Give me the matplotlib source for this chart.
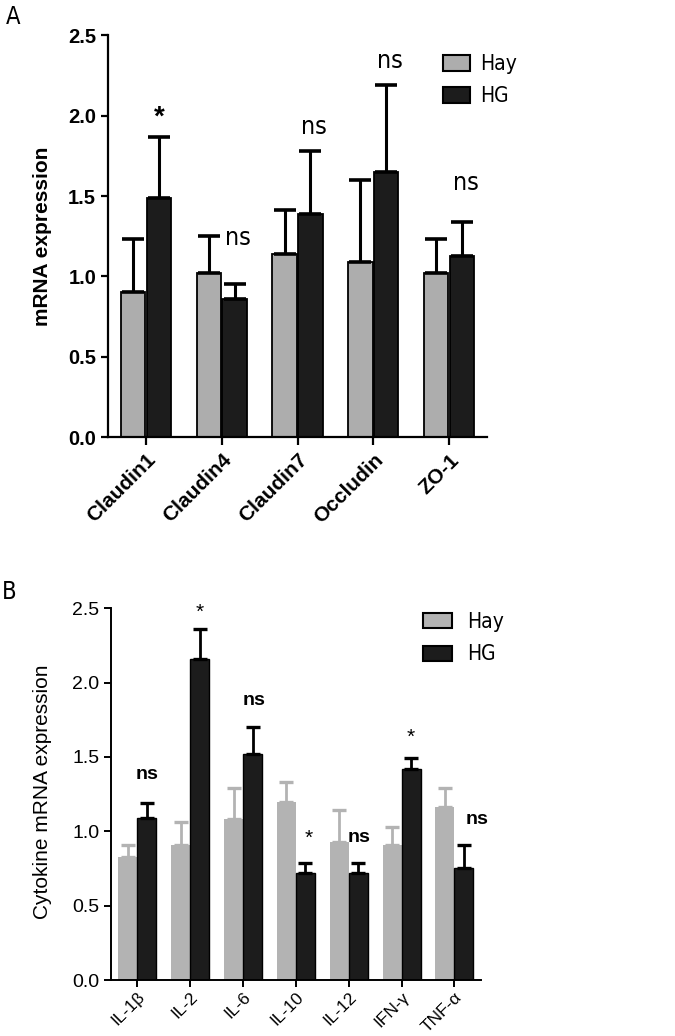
import matplotlib
matplotlib.use("Agg")
import numpy as np
import matplotlib.pyplot as plt
from matplotlib.patches import Patch

# Panel A: tight junction genes
genes = ['Claudin1', 'Claudin4', 'Claudin7', 'Occludin', 'ZO-1']
hay_a = [0.90, 1.02, 1.14, 1.09, 1.02]
hay_a_err = [0.33, 0.23, 0.27, 0.51, 0.21]
hg_a = [1.49, 0.86, 1.39, 1.65, 1.13]
hg_a_err = [0.38, 0.09, 0.39, 0.54, 0.21]
sig_a = ['*', 'ns', 'ns', 'ns', 'ns']
sig_a_y = [1.99, 1.24, 1.93, 2.34, 1.58]

# Panel B: cytokines
cytokines = ['IL-1β', 'IL-2', 'IL-6', 'IL-10', 'IL-12', 'IFN-γ', 'TNF-α']
hay_b = [0.83, 0.91, 1.08, 1.20, 0.93, 0.91, 1.16]
hay_b_err = [0.08, 0.15, 0.21, 0.13, 0.21, 0.12, 0.13]
hg_b = [1.09, 2.16, 1.52, 0.72, 0.72, 1.42, 0.75]
hg_b_err = [0.10, 0.20, 0.18, 0.07, 0.07, 0.07, 0.16]
sig_b = ['ns', '*', 'ns', '*', 'ns', '*', 'ns']
sig_b_y = [1.38, 2.47, 1.88, 0.95, 0.96, 1.63, 1.08]
sig_b_dx = [0.18, 0.18, 0.2, 0.24, 0.2, 0.18, 0.42]

yticks = [0.0, 0.5, 1.0, 1.5, 2.0, 2.5]
narrow = ['DejaVu Sans']
plt.rcParams['font.family'] = ['Liberation Sans', 'DejaVu Sans']

gray_a = '#adadad'
gray_b = '#b3b3b3'
dark = '#1c1c1c'

fig = plt.figure(figsize=(6.75, 10.36), dpi=100)

# ---------- Panel A ----------
ax = fig.add_axes([0.160, 0.578, 0.5615, 0.388])
x = np.arange(len(genes))
w = 0.32
ax.bar(x - 0.17, hay_a, w, color=gray_a, edgecolor='black', linewidth=1.3,
       yerr=[np.zeros(len(genes)), hay_a_err], capsize=8,
       error_kw=dict(elinewidth=2.2, capthick=2.6, ecolor='black'))
ax.bar(x + 0.17, hg_a, w, color=dark, edgecolor='black', linewidth=1.3,
       yerr=[np.zeros(len(genes)), hg_a_err], capsize=8,
       error_kw=dict(elinewidth=2.2, capthick=2.6, ecolor='black'))
for i, (s, yy) in enumerate(zip(sig_a, sig_a_y)):
    if s == '*':
        ax.text(i + 0.17, yy, s, ha='center', va='center', fontsize=20, fontweight='bold')
    else:
        ax.text(i + 0.22, yy, s, ha='center', va='center', fontsize=18,
                family=narrow, fontstretch='condensed', fontweight='light')
ax.set_xlim(-0.5, len(genes) - 0.5)
ax.set_ylim(0, 2.5)
ax.set_yticks(yticks)
ax.set_yticklabels([f'{t:.1f}' for t in yticks], fontsize=14.5, fontweight='bold')
ax.set_xticks(x)
ax.set_xticklabels(genes, rotation=45, ha='right', rotation_mode='anchor',
                   fontsize=15, fontweight='bold')
ax.set_ylabel('mRNA expression', fontsize=15, fontweight='bold')
ax.yaxis.set_label_coords(-0.148, 0.5)
for sp in ['top', 'right']:
    ax.spines[sp].set_visible(False)
for sp in ['left', 'bottom']:
    ax.spines[sp].set_linewidth(1.6)
ax.tick_params(axis='y', length=5, width=1.6)
ax.tick_params(axis='x', length=6, width=1.6)
handles = [Patch(facecolor=gray_a, edgecolor='black', linewidth=1.5, label='Hay'),
           Patch(facecolor=dark, edgecolor='black', linewidth=1.5, label='HG')]
ax.legend(handles=handles, loc='upper left', bbox_to_anchor=(443 / 675, 1 - 54 / 1036),
          bbox_transform=fig.transFigure, frameon=False, borderpad=0, borderaxespad=0,
          handlelength=1.3, handleheight=0.8, handletextpad=0.5, labelspacing=0.6,
          prop=dict(family=narrow, size=15, stretch='condensed'))
fig.text(6 / 675, 1 - 24 / 1036, 'A', fontsize=17, family=narrow, fontstretch='condensed')

# ---------- Panel B ----------
ax2 = fig.add_axes([0.1644, 0.054, 0.548, 0.359])
x2 = np.arange(len(cytokines))
w2 = 0.36
ax2.bar(x2 - 0.18, hay_b, w2, color=gray_b, edgecolor='none',
        yerr=[np.zeros(len(cytokines)), hay_b_err], capsize=5,
        error_kw=dict(elinewidth=2.0, capthick=2.4, ecolor=gray_b))
ax2.bar(x2 + 0.18, hg_b, w2, color=dark, edgecolor='black', linewidth=1.0,
        yerr=[np.zeros(len(cytokines)), hg_b_err], capsize=5,
        error_kw=dict(elinewidth=2.0, capthick=2.4, ecolor='black'))
for i, (s, yy, dx) in enumerate(zip(sig_b, sig_b_y, sig_b_dx)):
    if s == '*':
        ax2.text(i + dx, yy, s, ha='center', va='center', fontsize=15)
    else:
        ax2.text(i + dx, yy, s, ha='center', va='center', fontsize=14, fontweight='bold')
ax2.set_xlim(-0.5, len(cytokines) - 0.5)
ax2.set_ylim(0, 2.5)
ax2.set_yticks(yticks)
ax2.set_yticklabels([f'{t:.1f}' for t in yticks], fontsize=14)
ax2.set_xticks(x2)
ax2.set_xticklabels(cytokines, rotation=45, ha='right', rotation_mode='anchor', fontsize=12.5)
ax2.set_ylabel('Cytokine mRNA expression', fontsize=15)
ax2.yaxis.set_label_coords(-0.159, 0.505)
for sp in ['top', 'right']:
    ax2.spines[sp].set_visible(False)
for sp in ['left', 'bottom']:
    ax2.spines[sp].set_linewidth(1.4)
ax2.tick_params(axis='y', length=5, width=1.4)
ax2.tick_params(axis='x', length=5, width=1.4, pad=1.5)
handles2 = [Patch(facecolor=gray_b, edgecolor='black', linewidth=1.5, label='Hay'),
            Patch(facecolor=dark, edgecolor='black', linewidth=1.5, label='HG')]
ax2.legend(handles=handles2, loc='upper left', bbox_to_anchor=(423 / 675, 1 - 612 / 1036),
           bbox_transform=fig.transFigure, frameon=False, borderpad=0, borderaxespad=0,
           handlelength=1.4, handleheight=0.75, handletextpad=0.7, labelspacing=0.6,
           prop=dict(family=narrow, size=15, stretch='condensed'))
fig.text(2 / 675, 1 - 599 / 1036, 'B', fontsize=17, family=narrow, fontstretch='condensed')

fig.savefig('out.png', dpi=100)
